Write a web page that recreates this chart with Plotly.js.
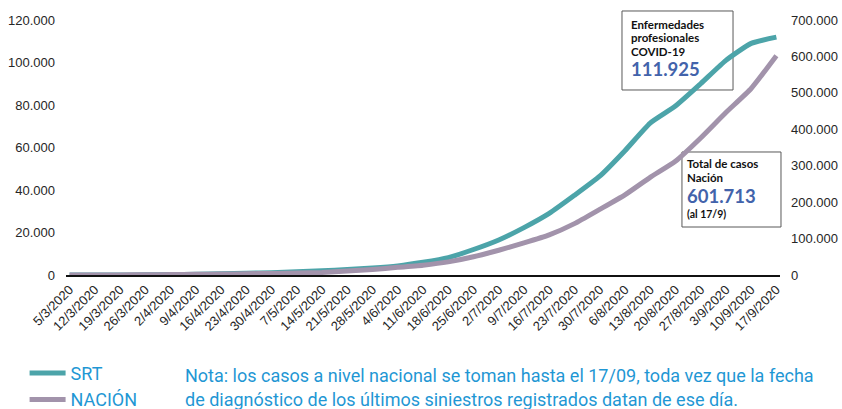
<!DOCTYPE html>
<html>
<head>
<meta charset="utf-8">
<script src="https://cdn.plot.ly/plotly-3.0.1.min.js"></script>
<style>html,body{margin:0;padding:0;background:#fff;}#chart{width:842px;height:409px;}</style>
</head>
<body>
<div id="chart"></div>
<script>
// Weekly dates (x), tick labels and series values
const dates = ['2020-03-05','2020-03-12','2020-03-19','2020-03-26','2020-04-02','2020-04-09','2020-04-16','2020-04-23','2020-04-30','2020-05-07','2020-05-14','2020-05-21','2020-05-28','2020-06-04','2020-06-11','2020-06-18','2020-06-25','2020-07-02','2020-07-09','2020-07-16','2020-07-23','2020-07-30','2020-08-06','2020-08-13','2020-08-20','2020-08-27','2020-09-03','2020-09-10','2020-09-17'];
const tickLabels = ['5/3/2020','12/3/2020','19/3/2020','26/3/2020','2/4/2020','9/4/2020','16/4/2020','23/4/2020','30/4/2020','7/5/2020','14/5/2020','21/5/2020','28/5/2020','4/6/2020','11/6/2020','18/6/2020','25/6/2020','2/7/2020','9/7/2020','16/7/2020','23/7/2020','30/7/2020','6/8/2020','13/8/2020','20/8/2020','27/8/2020','3/9/2020','10/9/2020','17/9/2020'];
const srt = [0,5,20,80,200,350,550,800,1100,1500,2000,2600,3300,4300,6000,8200,12000,16500,22300,29000,37500,46500,58500,71500,79500,90000,101000,109000,111925];
const nacion = [2,31,128,589,1265,1894,2571,3435,4428,5611,7134,11000,15400,21000,27000,36000,50000,68000,88000,110000,141000,180000,220000,268000,312000,376000,446000,512000,601713];
const leftTicks = [0,20000,40000,60000,80000,100000,120000];
const rightTicks = [0,100000,200000,300000,400000,500000,600000,700000];
const seriesNames = ['SRT','NACIÓN'];

function fmt(n){ return String(n).replace(/\B(?=(\d{3})+(?!\d))/g,'.'); }

const TEAL = '#4ca4a9';
const MAUVE = '#a293ab';
const BLUE_NOTE = '#1f97d4';
const BLUE_NUM = '#4263ab';

const traces = [
  {x: dates, y: srt, name: seriesNames[0], type: 'scatter', mode: 'lines', yaxis: 'y',
   line: {color: TEAL, width: 5, shape: 'spline', smoothing: 0.5}},
  {x: dates, y: nacion, name: seriesNames[1], type: 'scatter', mode: 'lines', yaxis: 'y2',
   line: {color: MAUVE, width: 5, shape: 'spline', smoothing: 0.5}}
];

const tickFont = {family: 'Liberation Sans, Arial, sans-serif', size: 13, color: '#262626'};
const boxFont = {family: 'Lato, Liberation Sans, sans-serif', size: 11.5, color: '#111'};

function txt(x, y, text, font){
  return {xref:'paper', yref:'paper', x:x, y:y, xanchor:'left', yanchor:'middle', showarrow:false, text:text, font:font, align:'left'};
}

const annotations = [
  txt(0.7885, 0.9843, '<b>Enfermedades</b>', boxFont),
  txt(0.7885, 0.9333, '<b>profesionales</b>', boxFont),
  txt(0.7885, 0.8784, '<b>COVID-19</b>', boxFont),
  txt(0.7885, 0.8078, '<b>' + fmt(srt[srt.length-1]) + '</b>', {family: boxFont.family, size: 18.5, color: BLUE_NUM}),
  txt(0.8669, 0.4353, '<b>Total de casos</b>', boxFont),
  txt(0.8669, 0.3843, '<b>Nación</b>', boxFont),
  txt(0.8669, 0.3098, '<b>' + fmt(nacion[nacion.length-1]) + '</b>', {family: boxFont.family, size: 18.5, color: BLUE_NUM}),
  txt(0.8669, 0.2392, '<b>(al 17/9)</b>', {family: boxFont.family, size: 10.5, color: '#111'}),
  txt(0.1640, -0.3922, 'Nota: los casos a nivel nacional se toman hasta el 17/09, toda vez que la fecha', {family: 'Roboto, sans-serif', size: 18, color: BLUE_NOTE}),
  txt(0.1640, -0.4863, 'de diagnóstico de los últimos siniestros registrados datan de ese día.', {family: 'Roboto, sans-serif', size: 18, color: BLUE_NOTE})
];

const shapes = [
  {type:'rect', xref:'paper', yref:'paper', x0:0.7787, x1:0.9342, y0:0.7255, y1:1.0353, fillcolor:'white', line:{color:'#595959', width:1}, layer:'below'},
  {type:'rect', xref:'paper', yref:'paper', x0:0.8627, x1:1.0014, y0:0.1882, y1:0.4824, fillcolor:'white', line:{color:'#595959', width:1}, layer:'below'}
];

const layout = {
  width: 842, height: 409,
  margin: {l: 66, r: 62, t: 20, b: 134, autoexpand: false},
  paper_bgcolor: '#ffffff', plot_bgcolor: '#ffffff',
  separators: ',.',
  showlegend: true,
  hovermode: false,
  legend: {x: -0.058, xanchor: 'left', y: -0.313, yanchor: 'top', orientation: 'v',
           font: {family: 'Roboto, sans-serif', size: 18, color: BLUE_NOTE}, bgcolor: 'rgba(0,0,0,0)', itemwidth: 36, tracegroupgap: 0},
  xaxis: {type: 'date', range: ['2020-03-04', '2020-09-18'], tickvals: dates, ticktext: tickLabels, tickangle: -45,
          tickfont: {family: 'Liberation Sans, Arial, sans-serif', size: 13, color: '#262626'},
          showgrid: false, zeroline: false, showline: true, linecolor: '#111', linewidth: 2, ticks: '', fixedrange: true},
  yaxis: {range: [0, 120000], tickvals: leftTicks, tickformat: ',.0f', tickfont: tickFont, showgrid: false, zeroline: false,
          showline: false, ticks: '', ticklabelstandoff: 10, fixedrange: true},
  yaxis2: {range: [0, 700000], tickvals: rightTicks, tickformat: ',.0f', tickfont: tickFont, overlaying: 'y', side: 'right',
           showgrid: false, zeroline: false, showline: false, ticks: '', ticklabelstandoff: 10, fixedrange: true},
  annotations: annotations,
  shapes: shapes
};

Plotly.newPlot('chart', traces, layout, {displayModeBar: false, staticPlot: true});
</script>
</body>
</html>
